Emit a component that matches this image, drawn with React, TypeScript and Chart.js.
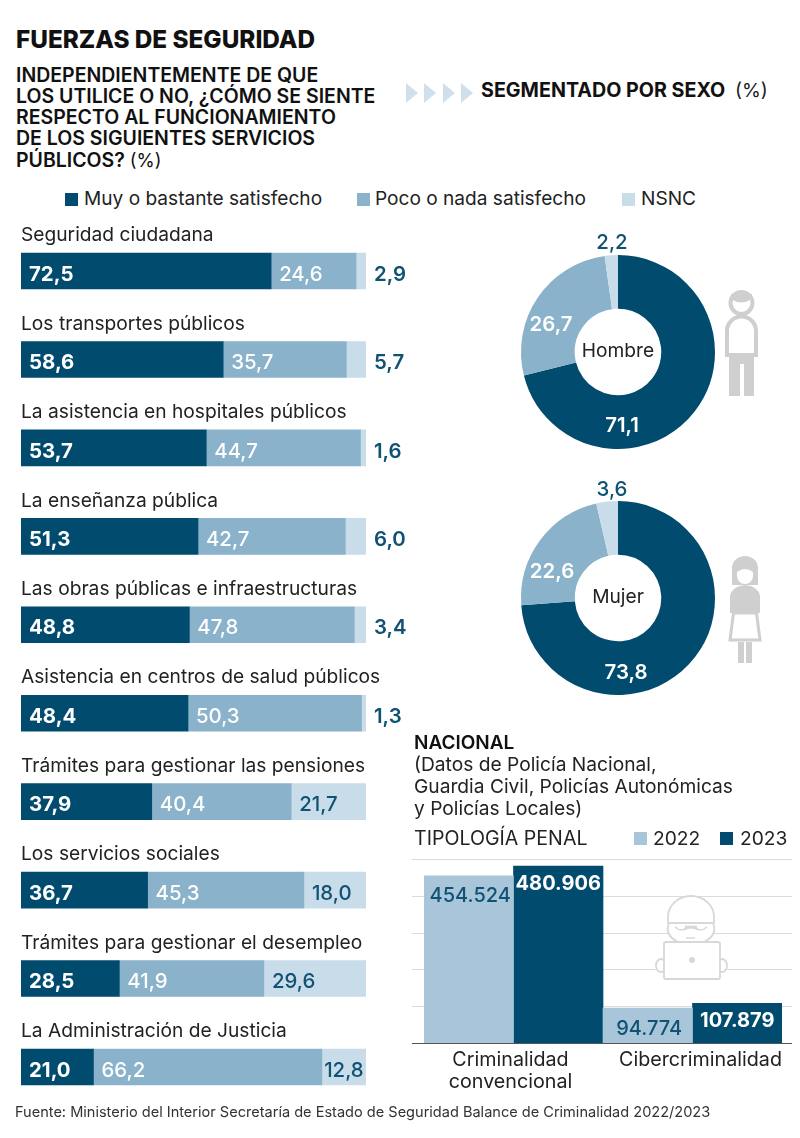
import React, { useEffect, useRef } from "react";
import { Chart, registerables } from "chart.js";

Chart.register(...registerables);

const FONT = "Inter, 'Noto Sans', sans-serif";
const BODY = 19.2;
const VAL = 20.4;
const DARK = "#004b6e";
const MID = "#8ab2ca";
const LIGHT = "#c9dcea";
const Y2022 = "#a8c5d9";
const VALUE_TEXT = "#0f5273";

const services = [
  "Seguridad ciudadana",
  "Los transportes públicos",
  "La asistencia en hospitales públicos",
  "La enseñanza pública",
  "Las obras públicas e infraestructuras",
  "Asistencia en centros de salud públicos",
  "Trámites para gestionar las pensiones",
  "Los servicios sociales",
  "Trámites para gestionar el desempleo",
  "La Administración de Justicia",
];
const satisfied = [72.5, 58.6, 53.7, 51.3, 48.8, 48.4, 37.9, 36.7, 28.5, 21.0];
const unsatisfied = [24.6, 35.7, 44.7, 42.7, 47.8, 50.3, 40.4, 45.3, 41.9, 66.2];
const nsnc = [2.9, 5.7, 1.6, 6.0, 3.4, 1.3, 21.7, 18.0, 29.6, 12.8];

const sexSegments = ["Muy o bastante satisfecho", "Poco o nada satisfecho", "NSNC"];
const hombre = [71.1, 26.7, 2.2];
const mujer = [73.8, 22.6, 3.6];

const crimeTypes = [["Criminalidad", "convencional"], ["Cibercriminalidad"]];
const crime2022 = [454524, 94774];
const crime2023 = [480906, 107879];

const comma = (v: number) => v.toFixed(1).replace(".", ",");
const thousands = (v: number) => String(v).replace(/\B(?=(\d{3})+$)/g, ".");

function useChart(make: (c: HTMLCanvasElement) => Chart) {
  const ref = useRef<HTMLCanvasElement>(null);
  useEffect(() => {
    const chart = make(ref.current!);
    return () => chart.destroy();
  }, []);
  return ref;
}

function StackedBars() {
  const ref = useChart((canvas) => new Chart(canvas, {
    type: "bar",
    data: {
      labels: services,
      datasets: [
        { label: sexSegments[0], data: satisfied, backgroundColor: DARK },
        { label: sexSegments[1], data: unsatisfied, backgroundColor: MID },
        { label: sexSegments[2], data: nsnc, backgroundColor: LIGHT },
      ],
    },
    options: {
      indexAxis: "y",
      responsive: false,
      animation: false,
      layout: { padding: { left: 21, right: 44, top: 226.8, bottom: 26.8 } },
      datasets: { bar: { barThickness: 36 } },
      scales: {
        x: { stacked: true, min: 0, max: 100, display: false },
        y: { stacked: true, display: false },
      },
      plugins: { legend: { display: false }, tooltip: { enabled: false } },
    },
    plugins: [{
      id: "rowLabels",
      afterDatasetsDraw(chart: any) {
        const ctx = chart.ctx;
        const y = chart.scales.y;
        const x = chart.scales.x;
        ctx.save();
        ctx.textBaseline = "middle";
        services.forEach((name, i) => {
          const cy = y.getPixelForValue(i);
          const vy = cy + 3.5;
          ctx.textAlign = "left";
          ctx.fillStyle = "#222";
          ctx.font = `400 ${BODY}px ${FONT}`;
          ctx.fillText(name, 21, cy - 35.5);

          ctx.fillStyle = "#fff";
          ctx.font = `700 ${VAL}px ${FONT}`;
          ctx.fillText(comma(satisfied[i]), x.getPixelForValue(0) + 8, vy);

          ctx.font = `500 ${VAL}px ${FONT}`;
          ctx.fillText(comma(unsatisfied[i]), x.getPixelForValue(satisfied[i]) + 8, vy);

          const start = x.getPixelForValue(satisfied[i] + unsatisfied[i]);
          const end = x.getPixelForValue(100);
          ctx.fillStyle = VALUE_TEXT;
          const label = comma(nsnc[i]);
          if (nsnc[i] < 10) {
            ctx.font = `600 ${VAL}px ${FONT}`;
            ctx.fillText(label, end + 8, vy);
          } else if (nsnc[i] < 15) {
            ctx.font = `500 ${VAL}px ${FONT}`;
            ctx.textAlign = "center";
            ctx.fillText(label, (start + end) / 2, vy);
          } else {
            ctx.font = `500 ${VAL}px ${FONT}`;
            ctx.fillText(label, start + 8, vy);
          }
        });
        ctx.restore();
      },
    }],
  } as any));
  return <canvas ref={ref} width={410} height={1138} style={{ position: "absolute", left: 0, top: 0, display: "block" }} />;
}

function Donut(props: { name: string; values: number[]; cy: number; offsets: number[][]; nameDy: number }) {
  const { name, values, cy, offsets, nameDy } = props;
  const ref = useChart((canvas) => new Chart(canvas, {
    type: "doughnut",
    data: {
      labels: sexSegments,
      datasets: [{ data: values, backgroundColor: [DARK, MID, LIGHT], borderWidth: 0 }],
    },
    options: {
      responsive: false,
      animation: false,
      radius: 97,
      cutout: "44.6%",
      plugins: { legend: { display: false }, tooltip: { enabled: false } },
    },
    plugins: [{
      id: "donutLabels",
      afterDatasetsDraw(chart: any) {
        const ctx = chart.ctx;
        const arc = chart.getDatasetMeta(0).data[0];
        ctx.save();
        ctx.textAlign = "center";
        ctx.textBaseline = "middle";
        values.forEach((v, i) => {
          ctx.fillStyle = i === 2 ? VALUE_TEXT : "#fff";
          ctx.font = `${i === 2 ? 500 : 600} ${VAL}px ${FONT}`;
          ctx.fillText(comma(v), arc.x + offsets[i][0], arc.y + offsets[i][1]);
        });
        ctx.fillStyle = "#222";
        ctx.font = `400 ${BODY}px ${FONT}`;
        ctx.fillText(name, arc.x, arc.y + nameDy);
        ctx.restore();
      },
    }],
  } as any));
  return <canvas ref={ref} width={216} height={240} style={{ position: "absolute", left: 510, top: cy - 120, display: "block" }} />;
}

function CrimeBars() {
  const ref = useChart((canvas) => new Chart(canvas, {
    type: "bar",
    data: {
      labels: crimeTypes,
      datasets: [
        { label: "2022", data: crime2022, backgroundColor: Y2022 },
        { label: "2023", data: crime2023, backgroundColor: DARK },
      ],
    },
    options: {
      responsive: false,
      animation: false,
      layout: { padding: { left: 14, right: 28, top: 9, bottom: 50 } },
      datasets: { bar: { categoryPercentage: 1, barPercentage: 1 } },
      scales: {
        x: { display: false },
        y: { display: false, min: 0, max: 500000, ticks: { stepSize: 100000 } },
      },
      plugins: { legend: { display: false }, tooltip: { enabled: false } },
    },
    plugins: [{
      id: "gridExtended",
      beforeDatasetsDraw(chart: any) {
        const ctx = chart.ctx;
        const y = chart.scales.y;
        ctx.save();
        ctx.strokeStyle = "#dcdcdc";
        ctx.lineWidth = 1;
        y.ticks.forEach((t: any) => {
          if (t.value === 0) return;
          const py = Math.round(y.getPixelForValue(t.value)) + 0.5;
          ctx.beginPath();
          ctx.moveTo(2, py);
          ctx.lineTo(382, py);
          ctx.stroke();
        });
        ctx.restore();
      },
      afterDatasetsDraw(chart: any) {
        const ctx = chart.ctx;
        const y = chart.scales.y;
        const x = chart.scales.x;
        ctx.save();
        const base = Math.round(y.getPixelForValue(0));
        ctx.strokeStyle = "#555";
        ctx.lineWidth = 1;
        ctx.beginPath();
        ctx.moveTo(2, base + 0.5);
        ctx.lineTo(382, base + 0.5);
        ctx.stroke();

        ctx.textAlign = "center";
        ctx.textBaseline = "middle";
        const labelNudge = [-3, 8];
        crimeTypes.forEach((lines, i) => {
          ctx.fillStyle = "#222";
          ctx.font = `400 19.7px ${FONT}`;
          lines.forEach((line, k) => ctx.fillText(line, x.getPixelForValue(i) + labelNudge[i], base + 17 + k * 21.7));
          const m0 = chart.getDatasetMeta(0).data[i];
          const m1 = chart.getDatasetMeta(1).data[i];
          ctx.fillStyle = VALUE_TEXT;
          ctx.font = `500 20px ${FONT}`;
          ctx.fillText(thousands(crime2022[i]), m0.x + 1.5, m0.y + 20.5);
          ctx.fillStyle = "#fff";
          ctx.font = `700 20px ${FONT}`;
          ctx.fillText(thousands(crime2023[i]), m1.x, m1.y + 17.5);
        });
        ctx.restore();
      },
    }],
  } as any));
  return <canvas ref={ref} width={400} height={243} style={{ position: "absolute", left: 410, top: 850, display: "block" }} />;
}

function Text(props: { x: number; y: number; size: number; weight?: number; color?: string; lh?: number; children: React.ReactNode }) {
  const { x, y, size, weight = 400, color = "#222", lh = 22, children } = props;
  return (
    <div style={{ position: "absolute", left: x, top: y, fontSize: size, fontWeight: weight, color, lineHeight: `${lh}px`, fontFamily: FONT, whiteSpace: "pre" }}>
      {children}
    </div>
  );
}

function Swatch(props: { x: number; y: number; color: string }) {
  return <div style={{ position: "absolute", left: props.x, top: props.y, width: 13, height: 13, background: props.color }} />;
}

function Icons() {
  const g = "#cfcfcf";
  return (
    <svg width={800} height={1138} style={{ position: "absolute", left: 0, top: 0 }}>
      {[406, 424, 443, 461].map((x) => (
        <polygon key={x} points={`${x},83 ${x + 12},93 ${x},103`} fill="#cfe0ec" />
      ))}
      {/* Hombre */}
      <circle cx={741.5} cy={303} r={11} fill="#fff" stroke={g} strokeWidth={4} />
      <path d="M731,299 Q741,306 752,299 L752,294 L731,294 Z" fill={g} />
      <path d="M727,355 V331 A14.5,14.5 0 0 1 756,331 V355 Z" fill="#fff" stroke={g} strokeWidth={4} />
      <path d="M729,357 H754 V396 H744 V364 H740 V396 H729 Z" fill={g} />
      {/* Mujer */}
      <path d="M732,585 V568 A13,12 0 0 1 758,568 V585 Z" fill={g} />
      <path d="M737,572 Q745,566 753,572 V576 A8,8 0 0 1 737,576 Z" fill="#fff" />
      <path d="M730,613 V596 Q732,586 745,585 Q758,586 760,596 V613 Z" fill={g} />
      <path d="M733.5,613 H756.5 L760,640 H730 Z" fill="#fff" stroke={g} strokeWidth={3} />
      <path d="M738,642 H744 V663 H738 Z M746,642 H752 V663 H746 Z" fill={g} />
    </svg>
  );
}

function Hacker() {
  const s = "#d8d8d8";
  return (
    <svg width={800} height={1138} style={{ position: "absolute", left: 0, top: 0 }}>
      <g fill="#fff" stroke={s} strokeWidth={1.8}>
        <ellipse cx={661} cy={965.5} rx={5} ry={6.5} />
        <ellipse cx={722} cy={965.5} rx={5} ry={6.5} />
        <path d="M669,923 Q664,935 678,942 H704 Q718,935 713,923 Z" />
        <path d="M668,917 A23,21 0 0 1 714,917 V923 H668 Z" />
        <rect x={664} y={942} width={56} height={37} rx={2} />
      </g>
      <path d="M674,927 Q690,924 708,927 Q702,933 694,929 Q691,928 688,929 Q680,933 674,927 Z" fill={s} />
      <ellipse cx={681} cy={927} rx={4} ry={2} fill="#fff" />
      <ellipse cx={701} cy={927} rx={4} ry={2} fill="#fff" />
      <path d="M686,938 H695" stroke={s} strokeWidth={1.5} />
      <circle cx={692} cy={960} r={3} fill={s} />
    </svg>
  );
}

export default function App() {
  const subtitle = ["INDEPENDIENTEMENTE DE QUE", "LOS UTILICE O NO, ¿CÓMO SE SIENTE", "RESPECTO AL FUNCIONAMIENTO", "DE LOS SIGUIENTES SERVICIOS"];
  return (
    <div style={{ position: "absolute", left: 0, top: 0, width: 800, height: 1138, background: "#fff", overflow: "hidden" }}>
      <Text x={16} y={25} size={24.3} weight={800} color="#111" lh={28}>FUERZAS DE SEGURIDAD</Text>
      {subtitle.map((t, i) => (
        <Text key={i} x={16} y={63.5 + i * 21.3} size={19.5} weight={600} color="#111">{t}</Text>
      ))}
      <Text x={16} y={63.5 + 4 * 21.3} size={19.5} weight={600} color="#111">PÚBLICOS? <span style={{ fontWeight: 400, fontSize: 18.5 }}>(%)</span></Text>
      <Text x={481} y={79} size={19.7} weight={700} color="#111">SEGMENTADO POR SEXO</Text>
      <Text x={735} y={79} size={BODY}>(%)</Text>

      <Swatch x={65} y={193} color={DARK} />
      <Text x={84} y={187} size={19.1}>{sexSegments[0]}</Text>
      <Swatch x={357} y={193} color={MID} />
      <Text x={375} y={187} size={19.1}>{sexSegments[1]}</Text>
      <Swatch x={622} y={193} color={LIGHT} />
      <Text x={641} y={187} size={19.1}>{sexSegments[2]}</Text>

      <StackedBars />
      <Donut name="Hombre" values={hombre} cy={352} offsets={[[4, 74], [-67, -27], [-6, -109]]} nameDy={-1} />
      <Donut name="Mujer" values={mujer} cy={598} offsets={[[8, 75], [-66, -26], [-6, -108]]} nameDy={-1} />
      <Icons />

      <Text x={414} y={732} size={19} weight={600} color="#111">NACIONAL</Text>
      <Text x={414} y={753} size={BODY}>(Datos de Policía Nacional,</Text>
      <Text x={414} y={775} size={BODY}>Guardia Civil, Policías Autonómicas</Text>
      <Text x={414} y={797} size={BODY}>y Policías Locales)</Text>
      <Text x={414} y={827} size={19.6}>TIPOLOGÍA PENAL</Text>
      <Swatch x={634} y={832} color={Y2022} />
      <Text x={653} y={827} size={BODY}>2022</Text>
      <Swatch x={720} y={832} color={DARK} />
      <Text x={740} y={827} size={BODY}>2023</Text>

      <CrimeBars />
      <Hacker />

      <Text x={15} y={1103} size={14.55} color="#333" lh={18}>Fuente: Ministerio del Interior Secretaría de Estado de Seguridad Balance de Criminalidad 2022/2023</Text>
    </div>
  );
}
